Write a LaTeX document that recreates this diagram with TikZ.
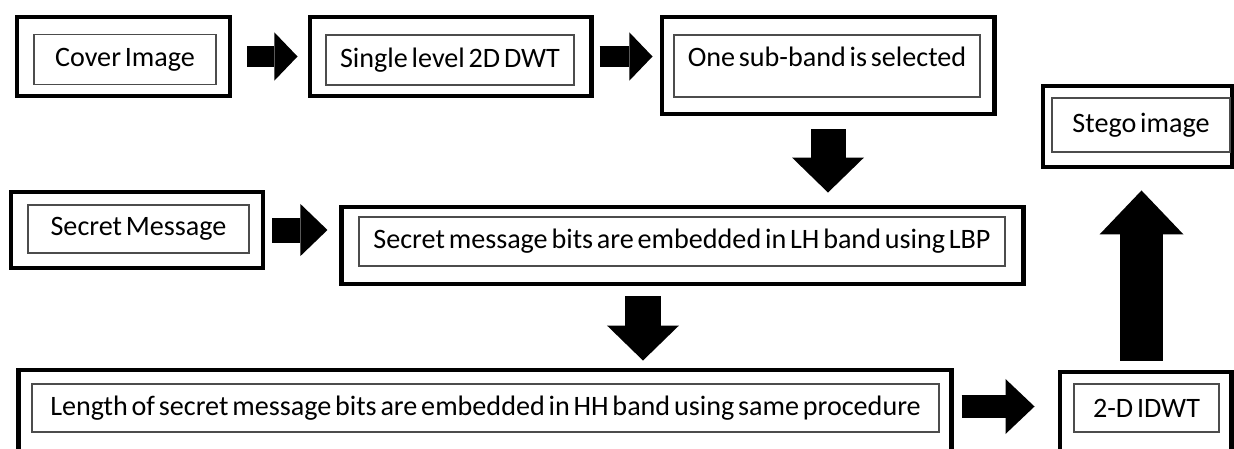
\documentclass[tikz,border=0pt]{standalone}
\usepackage{fontspec}
\setmainfont{Carlito}[WordSpace=0.6]
\usetikzlibrary{arrows.meta,positioning}
\begin{document}
\begin{tikzpicture}[x=0.025cm,y=-0.025cm,font=\fontsize{20}{23}\selectfont,
outbox/.style={draw,line width=3.5pt,inner sep=0pt},
inbox/.style={draw=black!70,line width=1.4pt,inner sep=0pt},
fat/.style args={#1/#2/#3}{line width=#1,-{Triangle[width=#2,length=#3,line width=0pt]}}]
\useasboundingbox (0,0) rectangle (1234,448);
\clip (0,0) rectangle (1234,448);
\node[outbox,minimum width=5.325cm,minimum height=1.975cm](cover-o)at(123.5,56.5){};
\node[inbox,minimum width=4.525cm,minimum height=1.25cm](cover)at(125,59.5){Cover Image};
\node[outbox,minimum width=7.025cm,minimum height=1.975cm](dwt-o)at(450.5,56.5){};
\node[inbox,minimum width=6.2cm,minimum height=1.25cm](dwt)at(450,60){Single level 2D DWT};
\node[outbox,minimum width=8.3cm,minimum height=2.425cm](sel-o)at(828,65.5){};
\node[inbox,minimum width=7.65cm,minimum height=1.55cm](sel)at(827,66){};
\node(sel-t)at([yshift=-0.575cm]sel.north){One sub-band is selected};
\node[outbox,minimum width=4.725cm,minimum height=2.025cm](stego-o)at(1137.5,126.5){};
\node[inbox,minimum width=4.45cm,minimum height=1.35cm](stego)at(1141,125){Stego image};
\node[outbox,minimum width=6.3cm,minimum height=1.9cm](msg-o)at(137,230){};
\node[inbox,minimum width=5.525cm,minimum height=1.2cm](msg)at(138.5,229){Secret Message};
\node[outbox,minimum width=17.025cm,minimum height=1.925cm](bits-o)at(682.5,245.5){};
\node[inbox,minimum width=16.15cm,minimum height=1.225cm](bits)at(682,241.5){Secret message bits are embedded in LH band using LBP};
\node[outbox,minimum width=23.3cm,minimum height=2.125cm](len-o)at(485,412.5){};
\node[inbox,minimum width=22.675cm,minimum height=1.2cm](len)at(485.5,408){Length of secret message bits are embedded in HH band using same procedure};
\node[outbox,minimum width=4.275cm,minimum height=2.075cm](idwt-o)at(1145.5,413.5){};
\node[inbox,minimum width=3.625cm,minimum height=1.2cm](idwt)at(1146.5,408){2-D IDWT};
\draw[fat=0.5cm/1.2cm/0.575cm,shorten <=0.375cm,shorten >=0.25cm](cover-o.east)--(dwt-o.west);
\draw[fat=0.5cm/1.2cm/0.575cm,shorten <=0.15cm,shorten >=0.175cm](dwt-o.east)--(dwt-o.east-|sel-o.west);
\draw[fat=0.875cm/1.8cm/0.875cm,shorten <=0.325cm,shorten >=0.3cm](sel-o.south)--(sel-o.south|-bits-o.north);
\draw[fat=0.625cm/1.3cm/0.675cm,shorten <=0.175cm,shorten >=0.3cm](msg-o.east)--(msg-o.east-|bits-o.west);
\draw[fat=0.9cm/1.8cm/0.875cm,shorten <=0.25cm,shorten >=0.175cm]([xshift=-0.9875cm]bits-o.south)--([xshift=-0.9875cm]bits-o.south|-len-o.north);
\draw[fat=0.575cm/1.375cm/0.725cm,shorten <=0.2cm,shorten >=0.575cm]([yshift=0.15cm]len-o.east)--([yshift=0.15cm]len-o.east-|idwt-o.west);
\draw[fat=1.075cm/2.1cm/1.1cm,shorten <=0.225cm,shorten >=0.525cm]([xshift=-0.1cm]idwt-o.north)--([xshift=-0.1cm]idwt-o.north|-stego-o.south);
\end{tikzpicture}
\end{document}
